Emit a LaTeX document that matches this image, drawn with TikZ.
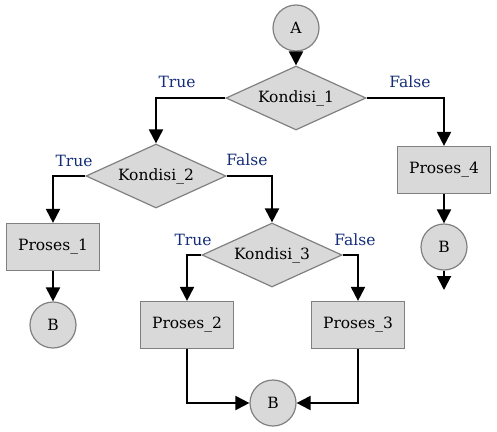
\documentclass[tikz,border=0pt]{standalone}
\usepackage{fontspec}
\setmainfont{DejaVu Serif}
\usetikzlibrary{shapes.geometric,arrows.meta}
\definecolor{boxfill}{RGB}{217,217,217}
\definecolor{boxline}{RGB}{128,128,128}
\definecolor{lbl}{RGB}{20,45,120}
\tikzset{
  base/.style={fill=boxfill,draw=boxline,line width=1.2pt,inner sep=0pt,font=\fontsize{15.5}{18}\selectfont},
  cond/.style={base,diamond,aspect=2.15,minimum width=140pt,minimum height=64pt},
  proc/.style={base,rectangle,minimum width=93pt,minimum height=47pt},
  conn/.style={base,circle,minimum size=46pt},
  arr/.style={line width=2pt,-{Triangle[width=14pt,length=14pt]}},
  tf/.style={text=lbl,font=\fontsize{15.5}{18}\selectfont,inner sep=0pt}
}
\begin{document}
\begin{tikzpicture}[x=1pt,y=-1pt]
\useasboundingbox (0,0) rectangle (497,431);
\node[conn] (A) at (296,28) {A};
\node[cond] (k1) at (296,98) {Kondisi\_1};
\node[cond] (k2) at (156,176) {Kondisi\_2};
\node[cond] (k3) at (272,255) {Kondisi\_3};
\node[proc] (p1) at (53,247) {Proses\_1};
\node[proc] (p2) at (187,325) {Proses\_2};
\node[proc] (p3) at (358,325) {Proses\_3};
\node[proc] (p4) at (444,170) {Proses\_4};
\node[conn] (b1) at (53,325) {B};
\node[conn] (b2) at (273,403) {B};
\node[conn] (b3) at (444,247) {B};
\coordinate (end) at (444,290);
\node[tf] (t1) at (177,82) {True};
\node[tf] (f1) at (410,82) {False};
\node[tf] (t2) at (74,161) {True};
\node[tf] (f2) at (247,160) {False};
\node[tf] (t3) at (193,240) {True};
\node[tf] (f3) at (355,240) {False};
\draw[arr] (A) -- (k1.north);
\draw[arr] (k1.west) -| (k2.north);
\draw[arr] (k1.east) -| (p4.north);
\draw[arr] (k2.west) -| (p1.north);
\draw[arr] (k2.east) -| (k3.north);
\draw[arr] (k3.west) -| (p2.north);
\draw[arr] (k3.east) -| (p3.north);
\draw[arr] (p1) -- (b1);
\draw[arr] (p2.south) |- (b2.west);
\draw[arr] (p3.south) |- (b2.east);
\draw[arr] (p4) -- (b3);
\draw[arr] (b3) -- (end);
\end{tikzpicture}
\end{document}
